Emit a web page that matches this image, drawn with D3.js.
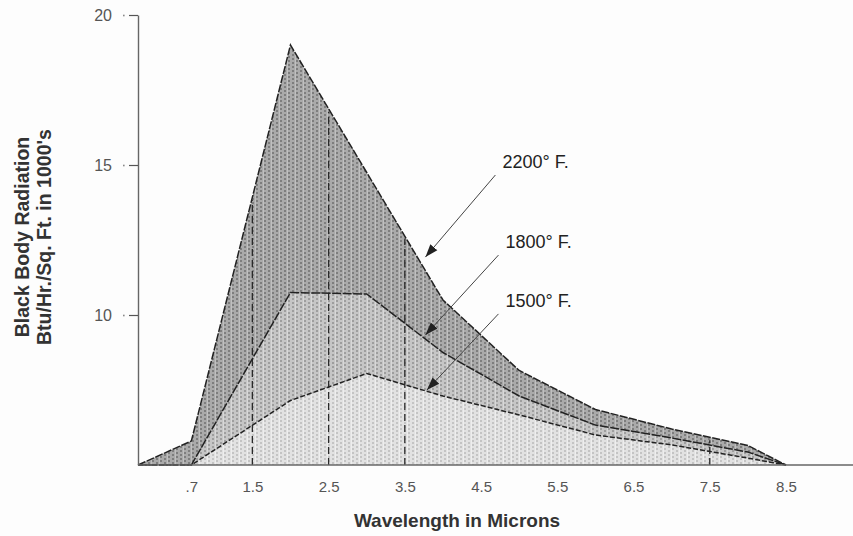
<!DOCTYPE html>
<html>
<head>
<meta charset="utf-8">
<script src="https://cdn.jsdelivr.net/npm/d3@7"></script>
<style>
  body { margin: 0; background: #fff; }
  svg { display: block; }
</style>
</head>
<body>
<script>
// black body radiation curves
const wavelengths = [0, 0.7, 2, 3, 4, 5, 6, 7, 8, 8.5];
const t2200 = [5, 5.8, 19, 14.75, 10.5, 8.15, 6.85, 6.2, 5.65, 5];
const t1800 = [5, 5, 10.75, 10.7, 8.75, 7.3, 6.33, 5.9, 5.43, 5];
const t1500 = [5, 5, 7.15, 8.05, 7.3, 6.67, 6.0, 5.67, 5.23, 5];

const xTicks = [0.7, 1.5, 2.5, 3.5, 4.5, 5.5, 6.5, 7.5, 8.5];
const yTicks = [10, 15, 20];
const markerLines = [1.5, 2.5, 3.5, 7.5];

const curveLabels = ["2200\u00b0 F.", "1800\u00b0 F.", "1500\u00b0 F."];
const labelPos = [[4.78, 14.9], [4.82, 12.23], [4.82, 10.27]];
const arrowTip = [[3.77, 11.93], [3.77, 9.33], [3.79, 7.5]];

const width = 853, height = 536;

const x = d3.scaleLinear().domain([0, 8.5]).range([138, 786]);
const y = d3.scaleLinear().domain([5, 20]).range([465, 15]);

const svg = d3.select("body").append("svg")
    .attr("width", width)
    .attr("height", height)
    .attr("font-family", "'Liberation Sans', Arial, Helvetica, sans-serif");

svg.append("rect").attr("width", width).attr("height", height).attr("fill", "#fdfdfd");

// halftone-ish fills
const defs = svg.append("defs");
function halftone(id, base, dot, stripe) {
  const p = defs.append("pattern")
      .attr("id", id)
      .attr("patternUnits", "userSpaceOnUse")
      .attr("width", 8)
      .attr("height", 4);
  p.append("rect").attr("width", 8).attr("height", 4).attr("fill", base);
  p.append("rect").attr("x", 0).attr("y", 0).attr("width", 2).attr("height", 2).attr("fill", dot);
  p.append("rect").attr("x", 4).attr("y", 2).attr("width", 2).attr("height", 2).attr("fill", dot);
  p.append("rect").attr("x", 7).attr("y", 0).attr("width", 1).attr("height", 4).attr("fill", stripe);
}
halftone("dark", "#aaaaaa", "#7e7e7e", "#c0c0c0");
halftone("mid", "#c6c6c6", "#9e9e9e", "#d8d8d8");
halftone("light", "#e2e2e2", "#c4c4c4", "#eeeeee");

const series = [
  {values: t2200, fill: "url(#dark)", dash: "8,1.5"},
  {values: t1800, fill: "url(#mid)", dash: "9,1.5"},
  {values: t1500, fill: "url(#light)", dash: "5,2"}
];

const area = d3.area()
    .x((d, i) => x(wavelengths[i]))
    .y0(y(5))
    .y1(d => y(d));

const line = d3.line()
    .x((d, i) => x(wavelengths[i]))
    .y(d => y(d));

svg.append("g")
  .selectAll("path")
  .data(series)
  .join("path")
    .attr("d", d => area(d.values))
    .attr("fill", d => d.fill);

// dashed verticals up to the 2200 curve
const interp2200 = w => {
  const i = d3.bisectRight(wavelengths, w) - 1;
  const t = (w - wavelengths[i]) / (wavelengths[i + 1] - wavelengths[i]);
  return t2200[i] + t * (t2200[i + 1] - t2200[i]);
};
svg.append("g")
    .attr("stroke", "#2a2a2a")
    .attr("stroke-width", 1.3)
    .attr("stroke-dasharray", "7,4")
  .selectAll("line")
  .data(markerLines)
  .join("line")
    .attr("x1", d => x(d)).attr("x2", d => x(d))
    .attr("y1", y(5)).attr("y2", d => y(interp2200(d)) + 3);

svg.append("g")
    .attr("fill", "none")
    .attr("stroke", "#222")
    .attr("stroke-width", 1.5)
  .selectAll("path")
  .data(series)
  .join("path")
    .attr("d", d => line(d.values))
    .attr("stroke-dasharray", d => d.dash);

// baseline across the page
svg.append("line")
    .attr("x1", x(0)).attr("x2", width)
    .attr("y1", y(5)).attr("y2", y(5))
    .attr("stroke", "#666")
    .attr("stroke-width", 1.6);

// y axis
const yAxis = svg.append("g")
    .attr("transform", `translate(${x(0)},0)`)
    .call(d3.axisLeft(y).tickValues(yTicks).tickSize(9).tickSizeOuter(0).tickPadding(17));
yAxis.select(".domain").attr("stroke", "#666").attr("stroke-width", 1.4);
yAxis.selectAll(".tick line").attr("stroke", "#555").attr("stroke-width", 1.2);
yAxis.selectAll(".tick").append("rect")
    .attr("x", -15).attr("y", -0.8).attr("width", 1.6).attr("height", 1.6).attr("fill", "#888");
yAxis.selectAll(".tick text")
    .attr("font-size", 16)
    .attr("fill", "#555");

// x axis labels
const xAxis = svg.append("g")
    .attr("transform", `translate(0,${y(5)})`)
    .call(d3.axisBottom(x).tickValues(xTicks).tickSize(0).tickPadding(16)
      .tickFormat(d => d < 1 ? ".7" : d3.format(".1f")(d)));
xAxis.select(".domain").remove();
xAxis.selectAll(".tick text")
    .attr("font-size", 15)
    .attr("fill", "#555");

// titles
svg.append("text")
    .attr("x", 457).attr("y", 527)
    .attr("text-anchor", "middle")
    .attr("font-size", 19)
    .attr("font-weight", "bold")
    .attr("fill", "#333")
    .text("Wavelength in Microns");

svg.append("g")
    .attr("transform", "translate(29,237) rotate(-90)")
  .append("text")
    .attr("text-anchor", "middle")
    .attr("font-size", 19.5)
    .attr("font-weight", "bold")
    .attr("fill", "#333")
    .text("Black Body Radiation");

svg.append("g")
    .attr("transform", "translate(51,237) rotate(-90)")
  .append("text")
    .attr("text-anchor", "middle")
    .attr("font-size", 19.5)
    .attr("font-weight", "bold")
    .attr("fill", "#333")
    .text("Btu/Hr./Sq. Ft. in 1000's");

// labels with arrows
defs.append("marker")
    .attr("id", "head")
    .attr("viewBox", "0 -5 10 10")
    .attr("refX", 10)
    .attr("markerWidth", 13)
    .attr("markerHeight", 13)
    .attr("markerUnits", "userSpaceOnUse")
    .attr("orient", "auto")
  .append("path")
    .attr("d", "M0,-3.5L10,0L0,3.5Z")
    .attr("fill", "#222");

const notes = svg.append("g")
  .selectAll("g")
  .data(curveLabels)
  .join("g");

notes.append("text")
    .attr("x", (d, i) => x(labelPos[i][0]))
    .attr("y", (d, i) => y(labelPos[i][1]))
    .attr("font-size", 18)
    .attr("fill", "#222")
    .text(d => d);

notes.append("line")
    .attr("x1", (d, i) => x(labelPos[i][0]) - 7)
    .attr("y1", (d, i) => y(labelPos[i][1]) + 7)
    .attr("x2", (d, i) => x(arrowTip[i][0]))
    .attr("y2", (d, i) => y(arrowTip[i][1]))
    .attr("stroke", "#444")
    .attr("stroke-width", 1)
    .attr("marker-end", "url(#head)");
</script>
</body>
</html>
